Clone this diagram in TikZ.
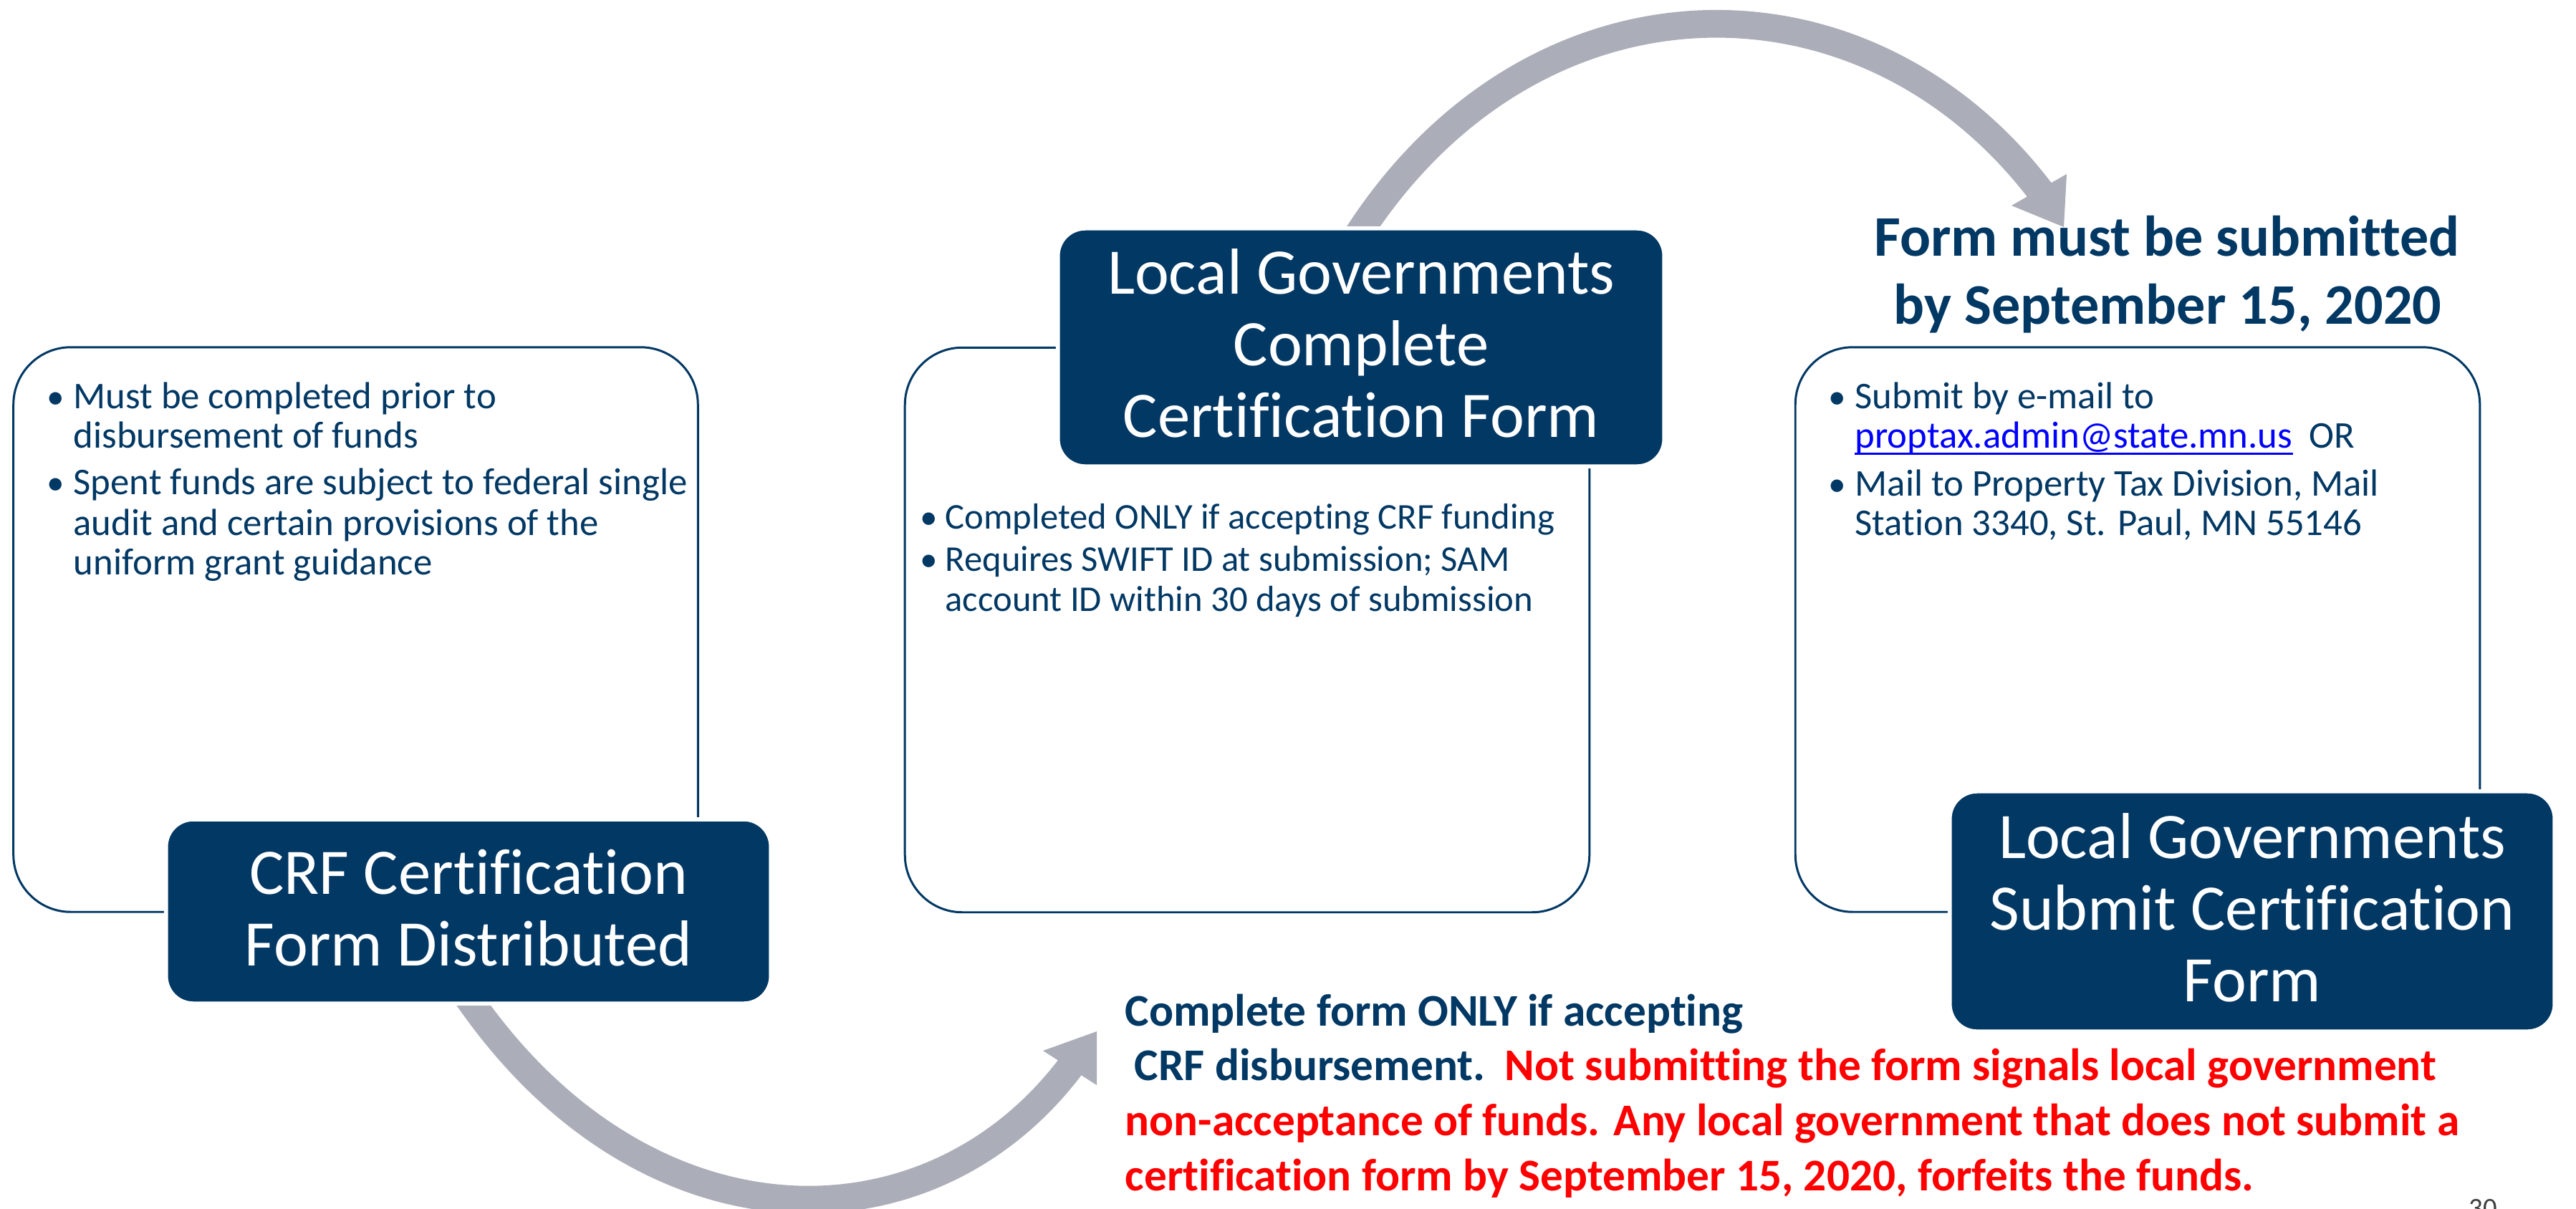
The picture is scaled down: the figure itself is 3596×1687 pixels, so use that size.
\documentclass[tikz,border=0pt]{standalone}
\usepackage{fontspec}
\setmainfont{Carlito}[Ligatures=NoCommon]
\usetikzlibrary{calc}
\definecolor{navy}{HTML}{023864}
\definecolor{arrowgray}{HTML}{ABAEB8}
\definecolor{linkblue}{HTML}{0000FF}
\definecolor{alertred}{HTML}{FF0000}
\definecolor{pgnum}{HTML}{404040}
\begin{document}
\begin{tikzpicture}[x=0.01cm,y=-0.01cm,
  whitebox/.style={draw=navy, line width=0.85pt, fill=white, rounded corners=0.8cm, minimum width=9.55cm, minimum height=7.88cm, inner sep=0pt},
  darkbox/.style={draw=white, line width=1.6pt, fill=navy, rounded corners=0.38cm, inner sep=0pt},
  darktext/.style={font=\fontsize{25.8pt}{28.45pt}\selectfont, text=white, inner sep=0pt, anchor=base},
  bultext/.style={font=\fontsize{15pt}{17pt}\selectfont, text=navy, inner sep=0pt, anchor=base west},
  bulmark/.style={font=\fontsize{14pt}{17pt}\selectfont, text=navy, inner sep=0pt, anchor=base},
  midtext/.style={font=\fontsize{14.4pt}{17pt}\selectfont, text=navy, inner sep=0pt, anchor=base west},
  headtext/.style={font=\bfseries\fontsize{22.8pt}{27pt}\selectfont, text=navy, inner sep=0pt, anchor=base},
  notetext/.style={font=\bfseries\fontsize{18pt}{21.9pt}\selectfont, inner sep=0pt, anchor=base west},
  arrowshaft/.style={draw=arrowgray, line width=11pt, line join=round},
  arrowtip/.style={fill=arrowgray, draw=none}]
\useasboundingbox (0,0) rectangle (3596,1687);

% ---------- arrows (behind boxes) ----------
\coordinate (ta0) at (1884,345);
\coordinate (ta1) at (1906,312);
\coordinate (ta2) at (2849,268);
\draw[arrowshaft] (ta0) -- (ta1) .. controls (2154,-52) and (2606,-52) .. (ta2);
\fill[arrowtip] (2885,243) -- (2881,317) -- (2808,287) -- cycle;

\coordinate (ba0) at (639,1373);
\coordinate (ba1) at (662,1405);
\coordinate (ba2) at (1496,1487);
\draw[arrowshaft] (ba0) -- (ba1) .. controls (909,1750) and (1299,1750) .. (ba2);
\fill[arrowtip] (1456,1467) -- (1531,1440) -- (1531,1515) -- cycle;

% ---------- white boxes ----------
\node[whitebox] (lbox) at (496.5,879) {};
\node[whitebox] (mbox) at (1741,879.5) {};
\node[whitebox] (rbox) at (2984,879) {};

% ---------- dark boxes ----------
\node[darkbox, minimum width=8.44cm, minimum height=2.57cm] (crf) at (654,1272.5) {};
\node[darkbox, minimum width=8.46cm, minimum height=3.32cm] (lgc) at (1900,485) {};
\node[darkbox, minimum width=8.44cm, minimum height=3.35cm] (lgs) at (3144,1272.5) {};

\node[darktext] (crf1) at (654,1248) {CRF Certification};
\node[darktext] (crf2) at (654,1348) {Form Distributed};
\node[darktext] (lgc1) at (1900,410) {Local Governments};
\node[darktext] (lgc2) at (1900,510) {Complete};
\node[darktext] (lgc3) at (1900,610) {Certification Form};
\node[darktext] (lgs1) at (3144,1198) {Local Governments};
\node[darktext] (lgs2) at (3144,1298) {Submit Certification};
\node[darktext] (lgs3) at (3144,1398) {Form};

% ---------- left box bullets ----------
\node[bulmark] (lb1) at (78,570) {•};
\node[bultext] (l1) at (102,570) {Must be completed prior to};
\node[bultext] (l2) at (102,625) {disbursement of funds};
\node[bulmark] (lb2) at (78,690) {•};
\node[bultext] (l3) at (102,690) {Spent funds are subject to federal single};
\node[bultext] (l4) at (102,747) {audit and certain provisions of the};
\node[bultext] (l5) at (102,802) {uniform grant guidance};

% ---------- middle box bullets ----------
\node[bulmark] (mb1) at (1297,738) {•};
\node[midtext] (m1) at (1319,738) {Completed ONLY if accepting CRF funding};
\node[bulmark] (mb2) at (1297,797) {•};
\node[midtext] (m2) at (1319,797) {Requires SWIFT ID at submission; SAM};
\node[midtext] (m3) at (1319,853) {account ID within 30 days of submission};

% ---------- right box bullets ----------
\node[bulmark] (rb1) at (2565,570) {•};
\node[bultext] (r1) at (2589,570) {Submit by e-mail to};
\node[bultext, text=linkblue] (r2) at (2589,625) {proptax.admin@state.mn.us};
\node[bultext] (r2b) at ([xshift=0.22cm]r2.base east) {OR};
\draw[linkblue, line width=0.85pt] ([yshift=-0.08cm]r2.base west) -- ([yshift=-0.08cm]r2.base east);
\node[bulmark] (rb2) at (2565,692) {•};
\node[bultext] (r3) at (2589,692) {Mail to Property Tax Division, Mail};
\node[bultext] (r4) at (2589,747) {Station 3340, St. Paul, MN 55146};

% ---------- heading ----------
\node[headtext] (h1) at (3025,357) {Form must be submitted};
\node[headtext] (h2) at (3026,452) {by September 15, 2020};

% ---------- bottom note ----------
\node[notetext, text=navy] (n1) at (1570,1432) {Complete form ONLY if accepting};
\node[notetext, text=navy] (n2) at (1583,1508) {CRF disbursement.};
\node[notetext, text=alertred] (n2b) at ([xshift=0.26cm]n2.base east) {Not submitting the form signals local government};
\node[notetext, text=alertred] (n3) at (1570,1585) {non-acceptance of funds. Any local government that does not submit a};
\node[notetext, text=alertred] (n4) at (1570,1662) {certification form by September 15, 2020, forfeits the funds.};

% ---------- page number ----------
\node[font=\fontsize{11pt}{13pt}\selectfont, text=pgnum, inner sep=0pt, anchor=base] (pg) at (3466,1699) {30};
\end{tikzpicture}
\end{document}
